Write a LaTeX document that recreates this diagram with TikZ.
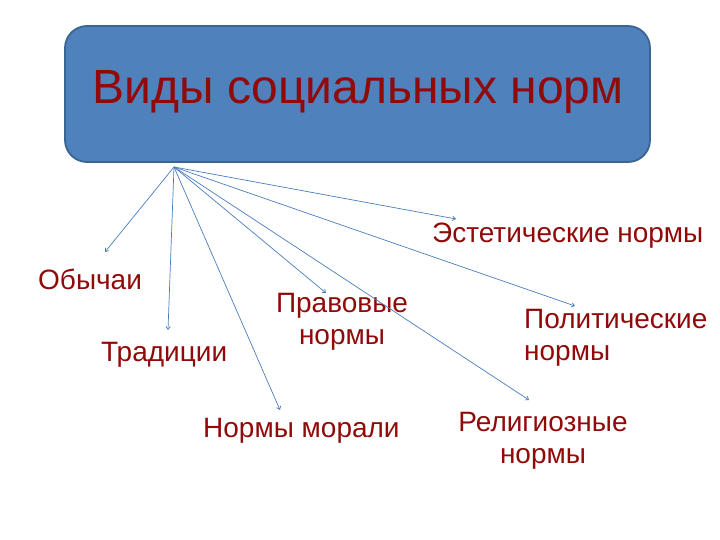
\documentclass[tikz,border=0pt]{standalone}
\usepackage{fontspec}
\setmainfont{Liberation Sans}
\usetikzlibrary{arrows.meta}
\definecolor{boxfill}{HTML}{4F81BD}
\definecolor{boxline}{HTML}{3A6592}
\definecolor{txtred}{HTML}{900A0A}
\definecolor{arrowblue}{HTML}{4A7EBB}
\tikzset{
  lbl/.style={inner sep=0pt, text=txtred, font=\fontsize{28}{32}\selectfont},
  conn/.style={draw=arrowblue, line width=0.7pt, -{Straight Barb[length=3pt,width=4.5pt]}},
}
\begin{document}
\begin{tikzpicture}[x=1pt,y=-1pt]
\useasboundingbox (0,0) rectangle (720,540);
\node[draw=boxline, line width=1.8pt, fill=boxfill, rounded corners=22pt,
      minimum width=585pt, minimum height=136pt, inner sep=0pt] (title) at (357.5,94) {};
\node[anchor=base, inner sep=0pt, text=txtred, font=\fontsize{48}{52}\selectfont] (titletext) at (358,104) {Виды социальных норм};
\coordinate (src) at (174,167);
\node[lbl, anchor=base west] (obychai) at (38,289) {Обычаи};
\node[lbl, anchor=base west] (tradicii) at (101,361) {Традиции};
\node[lbl, anchor=base west] (moral) at (203,437) {Нормы морали};
\node[lbl, anchor=base, align=center] (pravo) at (342,344) {Правовые\\нормы};
\node[lbl, anchor=base west] (estet) at (432,243) {Эстетические нормы};
\node[lbl, anchor=base west, align=left] (polit) at (524,360) {Политические\\нормы};
\node[lbl, anchor=base, align=center] (relig) at (543,463) {Религиозные\\нормы};
\coordinate (eobychai) at (105,252);
\coordinate (etradicii) at (168,330);
\coordinate (emoral) at (280,410);
\coordinate (epravo) at (326,293);
\coordinate (erelig) at (529,400);
\coordinate (epolit) at (575,306);
\coordinate (eestet) at (456,219);
\draw[conn] (src) -- (eobychai);
\draw[conn] (src) -- (etradicii);
\draw[conn] (src) -- (emoral);
\draw[conn] (src) -- (epravo);
\draw[conn] (src) -- (erelig);
\draw[conn] (src) -- (epolit);
\draw[conn] (src) -- (eestet);
\end{tikzpicture}
\end{document}
